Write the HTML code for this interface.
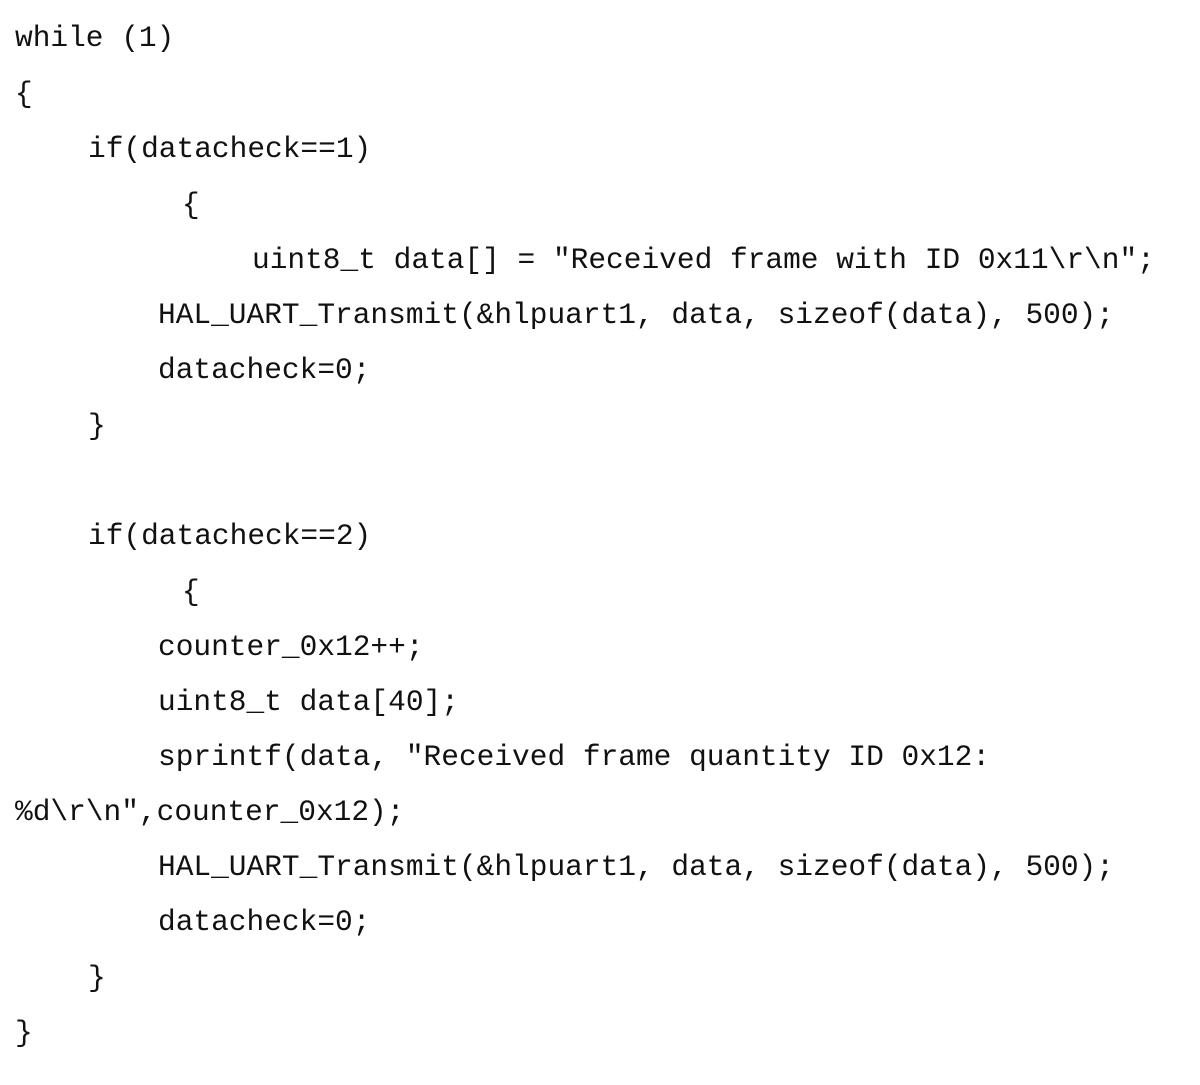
<!DOCTYPE html>
<html><head><meta charset="utf-8"><style>
html,body{margin:0;padding:0;background:#fff;}
body{width:1200px;height:1085px;position:relative;overflow:hidden;}
.l{position:absolute;font-family:"Liberation Mono",monospace;font-size:29.5px;line-height:36px;color:#111;white-space:pre;transform:translateY(-18px);}
</style></head><body>
<div class="l" style="left:15px;top:38px">while (1)</div>
<div class="l" style="left:15px;top:94px">{</div>
<div class="l" style="left:88px;top:149px">if(datacheck==1)</div>
<div class="l" style="left:182px;top:205px">{</div>
<div class="l" style="left:252px;top:260px">uint8_t data[] = "Received frame with ID 0x11\r\n";</div>
<div class="l" style="left:158px;top:315px">HAL_UART_Transmit(&amp;hlpuart1, data, sizeof(data), 500);</div>
<div class="l" style="left:158px;top:370px">datacheck=0;</div>
<div class="l" style="left:88px;top:426px">}</div>
<div class="l" style="left:88px;top:536px">if(datacheck==2)</div>
<div class="l" style="left:182px;top:592px">{</div>
<div class="l" style="left:158px;top:647px">counter_0x12++;</div>
<div class="l" style="left:158px;top:702px">uint8_t data[40];</div>
<div class="l" style="left:158px;top:757px">sprintf(data, "Received frame quantity ID 0x12:</div>
<div class="l" style="left:15px;top:812px">%d\r\n",counter_0x12);</div>
<div class="l" style="left:158px;top:867px">HAL_UART_Transmit(&amp;hlpuart1, data, sizeof(data), 500);</div>
<div class="l" style="left:158px;top:922px">datacheck=0;</div>
<div class="l" style="left:88px;top:978px">}</div>
<div class="l" style="left:15px;top:1033px">}</div>
</body></html>
